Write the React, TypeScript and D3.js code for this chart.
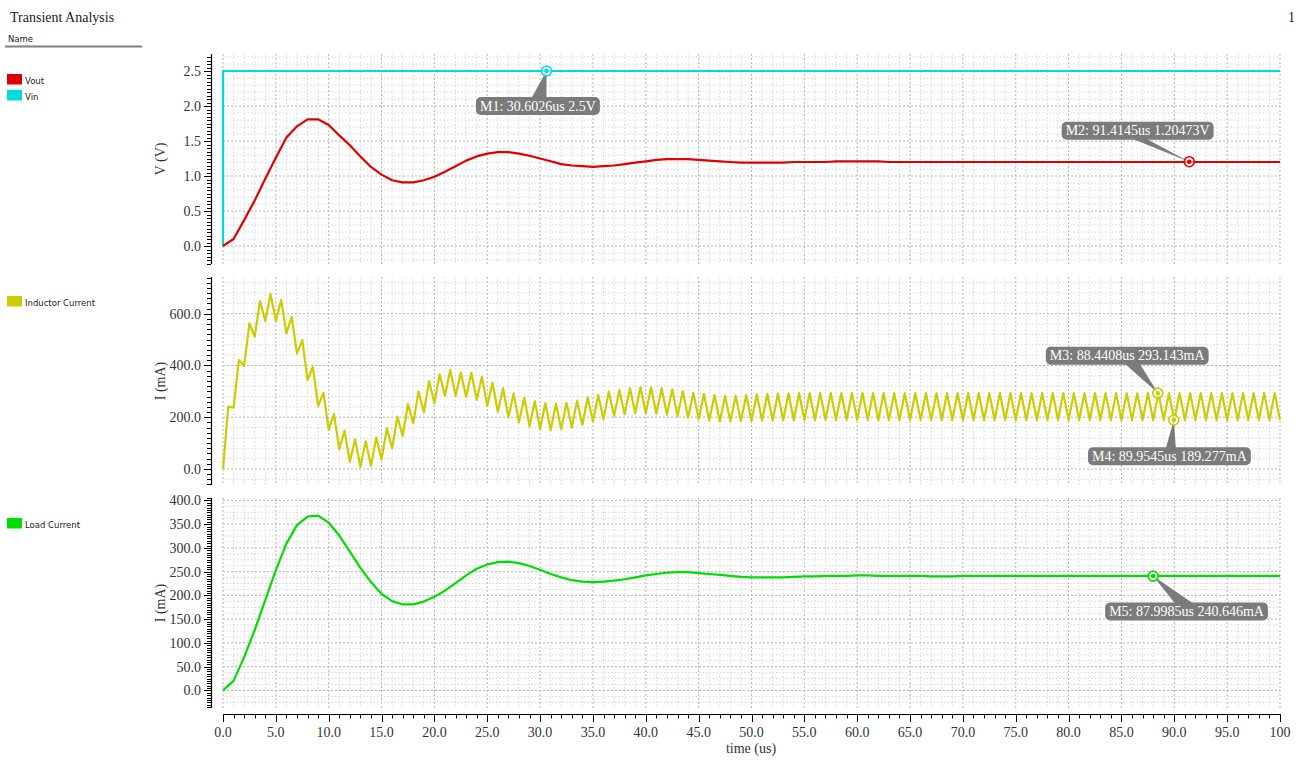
import React, { useEffect, useRef } from "react";
import * as d3 from "d3";

// ---------------- data ----------------
// time base for sampled series: 0..100 us, 1 us apart
const timeUs: number[] = Array.from({ length: 101 }, (_, i) => i);

const voutV: number[] = [
  0, 0.10, 0.37, 0.65, 0.96, 1.26, 1.55, 1.71, 1.81, 1.81,
  1.73, 1.58, 1.44, 1.28, 1.13, 1.02, 0.94, 0.91, 0.91, 0.94,
  0.99, 1.06, 1.14, 1.22, 1.28, 1.32, 1.34, 1.34, 1.32, 1.29,
  1.25, 1.21, 1.17, 1.15, 1.14, 1.13, 1.14, 1.15, 1.17, 1.19,
  1.21, 1.23, 1.24, 1.24, 1.24, 1.23, 1.22, 1.21, 1.20, 1.19,
  1.19, 1.19, 1.19, 1.19, 1.20, 1.20, 1.20, 1.20, 1.21, 1.21,
  1.21, 1.21, 1.21, 1.20, 1.20, 1.20, 1.20, 1.20, 1.20, 1.20,
  1.20, 1.20, 1.20, 1.20, 1.20, 1.20, 1.20, 1.20, 1.20, 1.20,
  1.20, 1.20, 1.20, 1.20, 1.20, 1.20, 1.20, 1.20, 1.20, 1.20,
  1.20, 1.20, 1.20, 1.20, 1.20, 1.20, 1.20, 1.20, 1.20, 1.20,
  1.20,
];

const vinTimes: number[] = [0, 0, 100];
const vinV: number[] = [0, 2.5, 2.5];

// inductor current: valley at t = k us, peak at t = k + 0.5 us
const inductorValleyMA: number[] = [
  0, 237, 398, 511, 572, 572, 524, 447, 344, 243,
  151, 76, 28, 7, 12, 37, 80, 128, 177, 219,
  254, 283, 282, 279, 267, 243, 221, 200, 180, 165,
  155, 150, 153, 160, 170, 183, 192, 205, 211, 215,
  215, 213, 209, 205, 198, 192, 187, 183, 183, 185,
  186, 187, 187, 188, 188, 189, 189, 190, 190, 190,
  190, 190, 189, 189, 189, 189, 189, 189, 189, 189,
  189, 189, 189, 189, 189, 189, 189, 189, 189, 189,
  189, 189, 189, 189, 189, 189, 189, 189, 189, 189,
  189, 189, 189, 189, 189, 189, 189, 189, 189, 189,
  189,
];
const inductorPeakMA: number[] = [
  241, 421, 563, 649, 676, 653, 588, 498, 395, 295,
  212, 148, 115, 107, 122, 157, 202, 251, 299, 340,
  366, 383, 372, 372, 357, 333, 312, 292, 275, 262,
  255, 252, 256, 264, 277, 286, 299, 305, 312, 316,
  316, 312, 308, 301, 295, 290, 286, 283, 283, 286,
  288, 290, 291, 292, 293, 293, 294, 294, 294, 294,
  294, 293, 293, 293, 293, 293, 293, 293, 293, 293,
  293, 293, 293, 293, 293, 293, 293, 293, 293, 293,
  293, 293, 293, 293, 293, 293, 293, 293, 293, 293,
  293, 293, 293, 293, 293, 293, 293, 293, 293, 293,
];

const loadMA: number[] = [
  0, 20, 70, 127, 190, 253, 309, 348, 366, 368,
  353, 326, 292, 258, 228, 203, 188, 181, 181, 187,
  197, 210, 226, 242, 256, 265, 270, 271, 268, 262,
  254, 245, 238, 232, 229, 228, 229, 231, 234, 238,
  242, 245, 248, 249, 249, 247, 245, 243, 241, 239,
  238, 238, 238, 238, 239, 240, 240, 241, 241, 241,
  242, 242, 241, 241, 241, 241, 241, 240, 240, 240,
  241, 241, 241, 241, 241, 241, 241, 241, 241, 241,
  241, 241, 241, 241, 241, 241, 241, 241, 241, 241,
  241, 241, 241, 241, 241, 241, 241, 241, 241, 241,
  241,
];

const xTicks: number[] = [0, 5, 10, 15, 20, 25, 30, 35, 40, 45, 50, 55, 60, 65, 70, 75, 80, 85, 90, 95, 100];
const vTicks: number[] = [0, 0.5, 1.0, 1.5, 2.0, 2.5];
const iTicks: number[] = [0, 200, 400, 600];
const loadTicks: number[] = [0, 50, 100, 150, 200, 250, 300, 350, 400];

const legendNames: string[] = ["Vout", "Vin", "Inductor Current", "Load Current"];

const markerNames: string[] = ["M1", "M2", "M3", "M4", "M5"];
const markerTimes: string[] = ["30.6026", "91.4145", "88.4408", "89.9545", "87.9985"];
const markerValues: string[] = ["2.5", "1.20473", "293.143", "189.277", "240.646"];
const markerUnits: string[] = ["V", "V", "mA", "mA", "mA"];

// ---------------- styling / layout ----------------
const COLORS = { vout: "#e00000", vin: "#00dcdc", ind: "#cccc00", load: "#00dd00" };
const SERIF = "'Liberation Serif', 'Times New Roman', serif";
const SANS = "'DejaVu Sans', Verdana, sans-serif";

export default function App() {
  const ref = useRef<SVGSVGElement>(null);

  useEffect(() => {
    const svg = d3.select(ref.current);
    svg.selectAll("*").remove();

    const x = d3.scaleLinear().domain([0, 100]).range([223, 1280]);
    const axisX = 211;

    const panels = [
      { domain: [-0.257, 2.743], range: [264, 54], ticks: vTicks, minorTick: 0.05, minorGrid: 0.1, major: 0.5, title: "V (V)", titleY: 159 },
      { domain: [-62, 742], range: [485, 277], ticks: iTicks, minorTick: 20, minorGrid: 40, major: 200, title: "I (mA)", titleY: 381 },
      { domain: [-37, 405], range: [708, 498], ticks: loadTicks, minorTick: 5, minorGrid: 12.5, major: 50, title: "I (mA)", titleY: 603 },
    ];
    const ys = panels.map((p) => d3.scaleLinear().domain(p.domain).range(p.range));

    const multiples = (step: number, lo: number, hi: number) => {
      const out: number[] = [];
      for (let i = Math.ceil(lo / step - 1e-9); i * step <= hi + 1e-9; i++) out.push(+(i * step).toFixed(6));
      return out;
    };
    const isMult = (v: number, step: number) => Math.abs(v / step - Math.round(v / step)) < 1e-6;

    // ---- title & legend header ----
    svg.append("text").attr("x", 10).attr("y", 22).attr("font-family", SERIF).attr("font-size", 14).attr("fill", "#222").text("Transient Analysis");
    svg.append("text").attr("x", 1288).attr("y", 22).attr("font-family", SERIF).attr("font-size", 14).attr("fill", "#222").text("1");
    svg.append("text").attr("x", 8).attr("y", 42).attr("font-family", SANS).attr("font-size", 8.5).attr("fill", "#222").text("Name");
    svg.append("line").attr("x1", 5).attr("x2", 142).attr("y1", 46.5).attr("y2", 46.5).attr("stroke", "#808080").attr("stroke-width", 2);

    const legendColors = [COLORS.vout, COLORS.vin, COLORS.ind, COLORS.load];
    const legendY = [74, 90, 296, 518];
    legendNames.forEach((n, i) => {
      svg.append("rect").attr("x", 7).attr("y", legendY[i]).attr("width", 15).attr("height", 10.5).attr("fill", legendColors[i]);
      svg.append("text").attr("x", 25).attr("y", legendY[i] + 10).attr("font-family", SANS).attr("font-size", 8.5).attr("fill", "#222").text(n);
    });

    // ---- grids & y axes ----
    panels.forEach((p, pi) => {
      const y = ys[pi];
      const top = p.range[1], bot = p.range[0];
      const g = svg.append("g");
      // vertical grid
      multiples(1, 0, 100).forEach((t) => {
        const maj = isMult(t, 5);
        g.append("line").attr("x1", x(t)).attr("x2", x(t)).attr("y1", top).attr("y2", bot)
          .attr("stroke", maj ? "#b4b4b4" : "#d6d6d6").attr("stroke-width", 1).attr("stroke-dasharray", maj ? "2,2" : "1.5,2");
      });
      // horizontal grid
      multiples(p.minorGrid, p.domain[0], p.domain[1]).forEach((v) => {
        const maj = isMult(v, p.major);
        g.append("line").attr("x1", x(0)).attr("x2", x(100)).attr("y1", y(v)).attr("y2", y(v))
          .attr("stroke", maj ? "#b4b4b4" : "#d6d6d6").attr("stroke-width", 1).attr("stroke-dasharray", maj ? "2,2" : "1.5,2");
      });
      // axis line
      svg.append("line").attr("x1", axisX + 0.5).attr("x2", axisX + 0.5).attr("y1", top).attr("y2", bot).attr("stroke", "#000").attr("stroke-width", 1.2);
      multiples(p.minorTick, p.domain[0], p.domain[1]).forEach((v) => {
        const maj = isMult(v, p.major);
        svg.append("line").attr("x1", axisX - (maj ? 7 : 4)).attr("x2", axisX).attr("y1", Math.round(y(v)) + 0.5).attr("y2", Math.round(y(v)) + 0.5)
          .attr("stroke", "#000").attr("stroke-width", 1);
      });
      p.ticks.forEach((v) => {
        svg.append("text").attr("x", 201).attr("y", y(v)).attr("dy", "0.35em").attr("text-anchor", "end")
          .attr("font-family", SERIF).attr("font-size", 14).attr("fill", "#333").text(d3.format(".1f")(v));
      });
      svg.append("text").attr("transform", `translate(160,${p.titleY}) rotate(-90)`).attr("text-anchor", "middle").attr("dy", "0.35em")
        .attr("font-family", SERIF).attr("font-size", 14).attr("fill", "#333").text(p.title);
    });

    // ---- x axis ----
    const axY = 714;
    svg.append("line").attr("x1", x(0)).attr("x2", x(100)).attr("y1", axY + 0.5).attr("y2", axY + 0.5).attr("stroke", "#000").attr("stroke-width", 1.2);
    multiples(1, 0, 100).forEach((t) => {
      const maj = isMult(t, 5);
      svg.append("line").attr("x1", Math.round(x(t)) + 0.5).attr("x2", Math.round(x(t)) + 0.5).attr("y1", axY).attr("y2", axY + (maj ? 8 : 4.5))
        .attr("stroke", "#000").attr("stroke-width", 1);
    });
    xTicks.forEach((t) => {
      svg.append("text").attr("x", x(t)).attr("y", 737).attr("text-anchor", "middle").attr("font-family", SERIF).attr("font-size", 14).attr("fill", "#333")
        .text(t === 100 ? "100" : d3.format(".1f")(t));
    });
    svg.append("text").attr("x", 751).attr("y", 753).attr("text-anchor", "middle").attr("font-family", SERIF).attr("font-size", 14).attr("fill", "#333").text("time (us)");

    // ---- series ----
    const line = (yScale: d3.ScaleLinear<number, number>) =>
      d3.line<[number, number]>().x((d) => x(d[0])).y((d) => yScale(d[1]));

    const vinPts: [number, number][] = vinTimes.map((t, i) => [t, vinV[i]]);
    const voutPts: [number, number][] = timeUs.map((t, i) => [t, voutV[i]]);
    const indPts: [number, number][] = [];
    inductorValleyMA.forEach((v, k) => {
      indPts.push([timeUs[k], v]);
      if (k < inductorPeakMA.length) indPts.push([timeUs[k] + 0.5, inductorPeakMA[k]]);
    });
    const loadPts: [number, number][] = timeUs.map((t, i) => [t, loadMA[i]]);

    const drawLine = (pts: [number, number][], yScale: any, color: string) =>
      svg.append("path").attr("d", line(yScale)(pts)).attr("fill", "none").attr("stroke", color).attr("stroke-width", 2.2).attr("stroke-linejoin", "round");

    drawLine(vinPts, ys[0], COLORS.vin);
    drawLine(voutPts, ys[0], COLORS.vout);
    drawLine(indPts, ys[1], COLORS.ind);
    drawLine(loadPts, ys[2], COLORS.load);

    // ---- markers ----
    const markerPanel = [0, 0, 1, 1, 2];
    const markerColor = [COLORS.vin, COLORS.vout, COLORS.ind, COLORS.ind, COLORS.load];
    // box offset relative to marker, callout base (relative x) and which box edge it attaches to
    const labelLayout = [
      { dx: -70.5, dy: 26, b0: -15, b1: 0, edge: "top" },
      { dx: -127.6, dy: -40, b0: -57, b1: -43, edge: "bottom" },
      { dx: -112, dy: -46.4, b0: -33, b1: -18, edge: "bottom" },
      { dx: -85.8, dy: 27.3, b0: -8, b1: 2, edge: "top" },
      { dx: -48, dy: 26.5, b0: 22, b1: 40, edge: "top" },
    ];
    const boxH = 18;
    markerNames.forEach((name, i) => {
      const mx = x(+markerTimes[i]);
      const my = ys[markerPanel[i]](+markerValues[i]);
      const L = labelLayout[i];
      const g = svg.append("g");
      const bx = mx + L.dx, by = my + L.dy;
      const edgeY = L.edge === "top" ? by + 1 : by + boxH - 1;
      g.append("path").attr("d", `M${mx},${my}L${mx + L.b0},${edgeY}L${mx + L.b1},${edgeY}Z`).attr("fill", "#7b7b7b");
      const rect = g.append("rect").attr("x", bx).attr("y", by).attr("height", boxH).attr("rx", 5).attr("fill", "#7b7b7b");
      const txt = g.append("text").attr("x", bx + 4).attr("y", by + 13.5).attr("font-family", SERIF).attr("font-size", 14).attr("fill", "#fff")
        .text(`${name}: ${markerTimes[i]}us ${markerValues[i]}${markerUnits[i]}`);
      const w = (txt.node() as SVGTextElement).getComputedTextLength();
      rect.attr("width", w + 8);
      svg.append("circle").attr("cx", mx).attr("cy", my).attr("r", 5).attr("fill", "rgba(255,255,255,0.55)").attr("stroke", markerColor[i]).attr("stroke-width", 1.6);
      svg.append("circle").attr("cx", mx).attr("cy", my).attr("r", 2.2).attr("fill", markerColor[i]);
    });
  }, []);

  return (
    <svg ref={ref} width={1312} height={763} style={{ position: "absolute", left: 0, top: 0, background: "#fff" }} />
  );
}
